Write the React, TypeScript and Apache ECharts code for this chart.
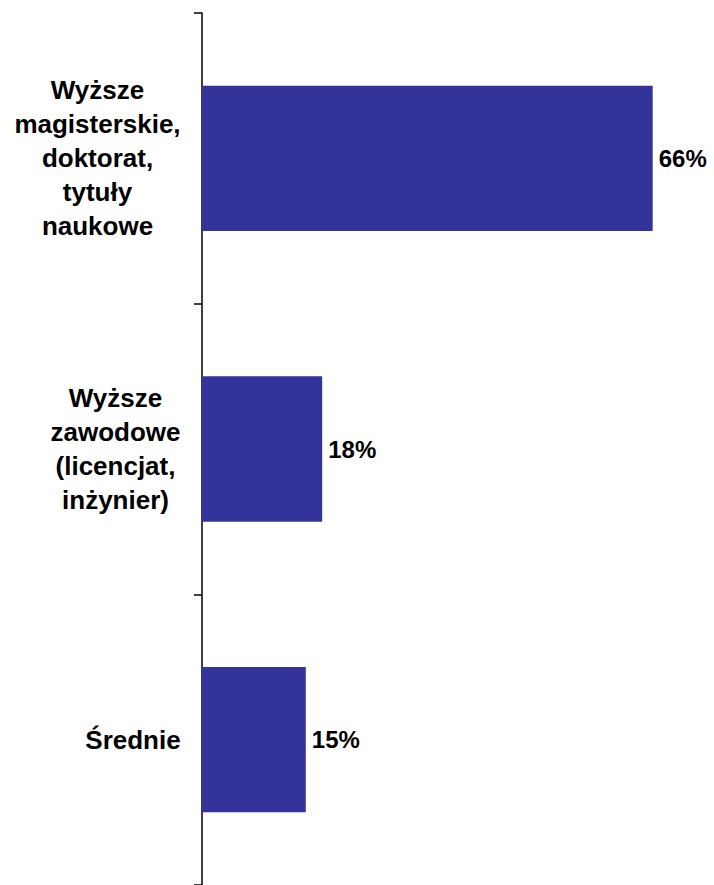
import React, { useEffect, useRef } from "react";
import * as echarts from "echarts";

const categories = [
  "Wyższe\nmagisterskie,\ndoktorat,\ntytuły\nnaukowe",
  "Wyższe\nzawodowe\n(licencjat,\ninżynier)",
  "Średnie",
];
const values = [66, 17.6, 15.2];
const valueLabels = ["66%", "18%", "15%"];

const FONT = '"Liberation Sans", Arial, sans-serif';
const CAT_SIZE = 26;

function measure(text: string): number {
  const c = document.createElement("canvas");
  const ctx = c.getContext("2d");
  if (!ctx) return text.length * CAT_SIZE * 0.6;
  ctx.font = `bold ${CAT_SIZE}px ${FONT}`;
  return ctx.measureText(text).width;
}

export default function App() {
  const ref = useRef<HTMLDivElement>(null);
  useEffect(() => {
    if (!ref.current) return;
    const chart = echarts.init(ref.current, null, { renderer: "svg" });
    const rich: Record<string, any> = {};
    categories.forEach((cat, i) => {
      const w = Math.max(...cat.split("\n").map(measure));
      rich["c" + i] = {
        width: Math.ceil(w) + 2,
        align: "center",
        fontSize: CAT_SIZE,
        fontWeight: "bold",
        fontFamily: FONT,
        color: "#000",
        lineHeight: 34,
      };
    });
    chart.setOption({
      animation: false,
      backgroundColor: "#fff",
      grid: { left: 202, top: 13, width: 478, height: 874 },
      xAxis: {
        type: "value",
        min: 0,
        max: 70,
        show: false,
      },
      yAxis: {
        type: "category",
        inverse: true,
        data: categories,
        axisLine: { show: true, lineStyle: { color: "#000", width: 1.5 } },
        axisTick: { show: true, length: 8, lineStyle: { color: "#000", width: 1.5 } },
        axisLabel: {
          margin: 20,
          align: "right",
          formatter: (v: string) => {
            const i = categories.indexOf(v);
            return v
              .split("\n")
              .map((l) => `{c${i}|${l}}`)
              .join("\n");
          },
          rich,
        },
        splitLine: { show: false },
      },
      series: [
        {
          type: "bar",
          data: values,
          barCategoryGap: "50%",
          itemStyle: { color: "#333399" },
          label: {
            show: true,
            position: "right",
            distance: 6,
            formatter: (p: any) => valueLabels[p.dataIndex],
            fontSize: 24,
            fontWeight: "bold",
            fontFamily: FONT,
            color: "#000",
          },
        },
      ],
    });
    return () => chart.dispose();
  }, []);
  return (
    <div
      ref={ref}
      style={{ position: "fixed", left: 0, top: 0, width: 714, height: 885 }}
    />
  );
}
